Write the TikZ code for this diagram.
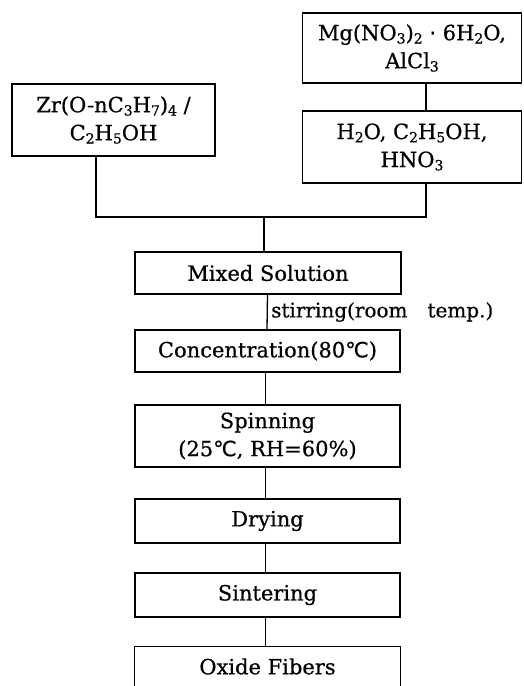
\documentclass[tikz,border=0pt]{standalone}
\usepackage{fontspec}
\setmainfont{DejaVu Serif}[FakeBold=0.6]
\newfontfamily\symfont{DejaVu Sans}[FakeBold=0.6]
\newcommand{\sbs}[1]{\raisebox{-0.3ex}{\fontsize{14}{14}\selectfont #1}}
\newcommand{\degC}{{\symfont ℃}}
\begin{document}
\begin{tikzpicture}[x=1pt,y=-1pt,
  box/.style={draw,line width=1.2pt,inner sep=0pt,align=center,font=\fontsize{21}{28}\selectfont},
  conn/.style={line width=1.3pt}]
\useasboundingbox (0,0) rectangle (523,686);
\node[box,minimum width=219,minimum height=70] (mg) at (412,48) {Mg(NO\sbs{3})\sbs{2} {\symfont ·} 6H\sbs{2}O,\\AlCl\sbs{3}};
\node[box,minimum width=219,minimum height=72] (h2o) at (412,147) {H\sbs{2}O, C\sbs{2}H\sbs{5}OH,\\HNO\sbs{3}};
\node[box,minimum width=203,minimum height=72] (zr) at (113.5,120) {Zr(O-nC\sbs{3}H\sbs{7})\sbs{4} /\\C\sbs{2}H\sbs{5}OH};
\node[box,minimum width=266,minimum height=42] (mixed) at (268,273) {Mixed Solution};
\node[box,minimum width=265,minimum height=42] (conc) at (267.5,351) {Concentration(80\degC)};
\node[box,minimum width=265,minimum height=62] (spin) at (267.5,436) {Spinning\\(25\degC, RH=60\%)};
\node[box,minimum width=265,minimum height=44] (dry) at (267.5,521) {Drying};
\node[box,minimum width=265,minimum height=44] (sint) at (267.5,595) {Sintering};
\node[box,draw=none,minimum width=265,minimum height=39] (oxide) at (267.5,666.5) {Oxide Fibers};
\draw[conn] (oxide.south west) -- (oxide.north west) -- (oxide.north east) -- (oxide.south east);
\coordinate (j) at (264,217);
\draw[conn] ([xshift=14]mg.south) -- ([xshift=14]h2o.north);
\draw[conn] ([xshift=-17.5]zr.south) |- (j);
\draw[conn] ([xshift=14]h2o.south) |- (j);
\draw[conn] (j) -- (j |- mixed.north);
\draw[conn] ([xshift=-0.5]mixed.south) -- ([xshift=-0.5]conc.north);
\node[anchor=west,inner sep=0pt,font=\fontsize{20}{24}\selectfont] (stir) at (271,312) {stirring(room\hspace{20pt}temp.)};
\draw[conn] ([xshift=-2]conc.south) -- ([xshift=-2]spin.north);
\draw[conn] ([xshift=-2]spin.south) -- ([xshift=-2]dry.north);
\draw[conn] ([xshift=-2]dry.south) -- ([xshift=-2]sint.north);
\draw[conn] ([xshift=-2]sint.south) -- ([xshift=-2]oxide.north);
\end{tikzpicture}
\end{document}
